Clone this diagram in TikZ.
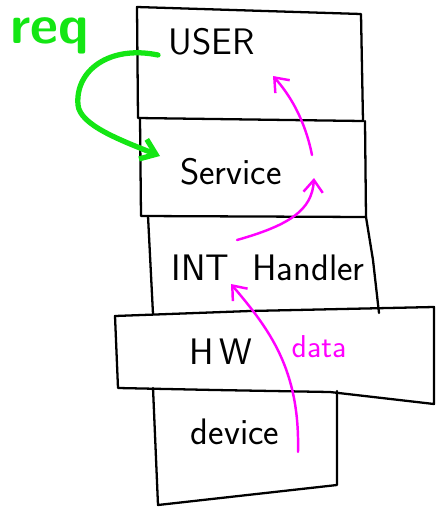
\documentclass[tikz,border=0pt]{standalone}
\usepackage{amsmath}
\usetikzlibrary{arrows.meta}
\definecolor{reqgreen}{RGB}{20,230,20}
\definecolor{datapink}{RGB}{255,0,255}

\begin{document}
\begin{tikzpicture}[x=0.02cm,y=-0.02cm,line join=round,line cap=round,
  layer/.style={line width=1.3pt,black},
  lbl/.style={font=\sffamily\fontsize{21}{24}\selectfont},
  flow/.style={line width=1.4pt,datapink,-{Straight Barb[length=7pt,width=11pt]}},
  call/.style={line width=3pt,reqgreen,-{Straight Barb[length=8pt,width=12pt]}}]
\useasboundingbox (0,0) rectangle (437,508);
% the stack of layers
\draw[layer] (137,7)--(138,118)--(363,121)--(361,14)--cycle;
\draw[layer] (140,118)--(141,216)--(366,217)--(365,121);
\draw[layer] (148,216)--(153,314);
\draw[layer] (366,217)--(373,260)--(379,313);
\draw[layer] (115,316)--(118,388)--(215,390)--(330,392)--(434,404)--(434,307)--(250,311)--cycle;
\draw[layer] (153,388)--(158,505)--(337,485)--(337,391);
% labels
\node[lbl] (user) at (212,42) {USER};
\node[lbl] (service) at (231,172) {Service};
\node[lbl] (inth) at (268,268) {INT\ \ Handler};
\node[lbl] (hw) at (221,352) {H\,W};
\node[lbl] (device) at (235,432) {device};
\node[font=\sffamily\bfseries\fontsize{31}{34}\selectfont,reqgreen] (req) at (50,36) {req};
\node[font=\sffamily\fontsize{18}{20}\selectfont,datapink] (data) at (319,347) {data};
% request path
\coordinate (reqA) at (158,55);
\coordinate (reqB) at (160,156);
\draw[call] (reqA) .. controls (110,45) and (75,70) .. (78,105)
  .. controls (80,125) and (120,140) .. (reqB);
% data path
\coordinate (d0) at (298,452);
\coordinate (d1) at (231,284);
\coordinate (d2) at (237,240);
\coordinate (d3) at (314,178);
\coordinate (d4) at (312,155);
\coordinate (d5) at (273,76);
\draw[flow] (d0) .. controls (300,370) and (270,330) .. (d1);
\draw[flow] (d2) .. controls (290,225) and (312,210) .. (d3);
\draw[flow] (d4) .. controls (305,120) and (290,95) .. (d5);
\end{tikzpicture}
\end{document}
